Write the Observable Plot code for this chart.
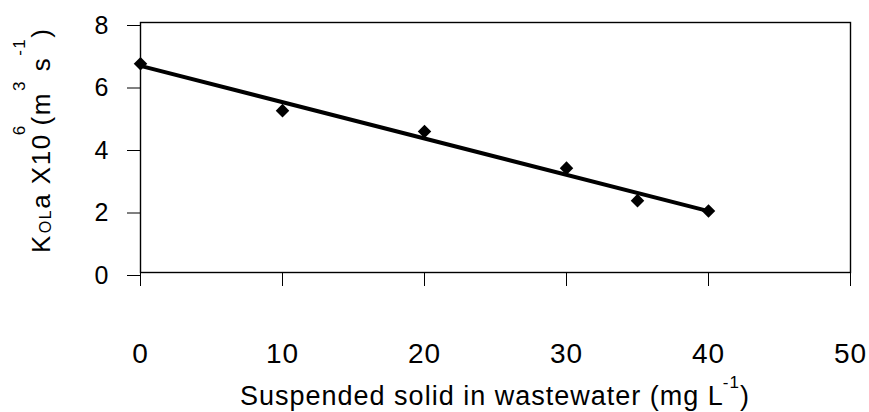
<!DOCTYPE html>
<html>
<head>
<meta charset="utf-8">
<script src="https://cdn.jsdelivr.net/npm/d3@7"></script>
<script src="https://cdn.jsdelivr.net/npm/@observablehq/plot@0.6"></script>
<style>
  html, body { margin: 0; padding: 0; background: #fff; }
  #chart svg { display: block; font-family: "Liberation Sans", Arial, sans-serif; }
</style>
</head>
<body>
<div id="chart"></div>
<script>
const solids = [0, 10, 20, 30, 35, 40];
const kola = [6.68, 5.18, 4.51, 3.34, 2.30, 1.97];
const xTicks = [0, 10, 20, 30, 40, 50];
const yTicks = [0, 2, 4, 6, 8];

const data = solids.map((s, i) => ({x: s, y: kola[i]}));

const W = 869, H = 412;
const mL = 140, mR = 19, mT = 22, mB = 140;

const svg = Plot.plot({
  width: W,
  height: H,
  marginLeft: mL,
  marginRight: mR,
  marginTop: mT,
  marginBottom: mB,
  style: {background: "#fff", fontFamily: "\"Liberation Sans\", Arial, sans-serif", color: "#000"},
  x: {domain: [0, 50]},
  y: {domain: [0, 8]},
  marks: [
    Plot.axisY({ticks: yTicks, tickSize: 13, tickPadding: 18, fontSize: 25, dy: 3, label: null, stroke: "#000", strokeOpacity: 1}),
    Plot.axisX({ticks: xTicks, tickSize: 14, tickPadding: 57, fontSize: 28, label: null, stroke: "#000", strokeOpacity: 1}),
    Plot.frame({stroke: "#000", strokeWidth: 1.4}),
    Plot.linearRegressionY(data, {x: "x", y: "y", ci: 0, stroke: "#000", strokeWidth: 4}),
    Plot.dot(data, {x: "x", y: "y", symbol: "diamond2", r: 6.1, fill: "#000", stroke: "none"})
  ]
});

const s = d3.select(svg);
s.selectAll("g[aria-label='y-axis tick label'] text, g[aria-label='x-axis tick label'] text")
  .attr("letter-spacing", 1);

// x-axis title
const xt = s.append("text")
  .attr("x", 240)
  .attr("y", 405)
  .attr("text-anchor", "start")
  .attr("font-size", 27)
  .attr("letter-spacing", 1)
  .attr("fill", "#000");
xt.append("tspan").text("Suspended solid in wastewater (mg L");
xt.append("tspan").attr("font-size", 17).attr("dy", -17).attr("dx", -1).text("-1");
xt.append("tspan").attr("dy", 17).attr("dx", 0).text(")");

// y-axis title (rotated)
const yt = s.append("text")
  .attr("transform", `translate(50,253) rotate(-90)`)
  .attr("text-anchor", "start")
  .attr("font-size", 26)
  .attr("letter-spacing", 1.5)
  .attr("fill", "#000");
yt.append("tspan").text("K");
yt.append("tspan").attr("font-size", 16).attr("dy", 1).attr("dx", 1).text("OL");
yt.append("tspan").attr("dy", -1).text("a X10");
yt.append("tspan").attr("font-size", 17).attr("dy", -25).attr("dx", -2).text("6");
yt.append("tspan").attr("dy", 25).attr("dx", -1).text("(m");
yt.append("tspan").attr("font-size", 17).attr("dy", -25).attr("dx", 1).text("3");
yt.append("tspan").attr("dy", 25).text(" s");
yt.append("tspan").attr("font-size", 17).attr("dy", -25).attr("dx", 1).text("-1");
yt.append("tspan").attr("dy", 25).attr("dx", 0).text(")");

document.getElementById("chart").appendChild(svg);
</script>
</body>
</html>
